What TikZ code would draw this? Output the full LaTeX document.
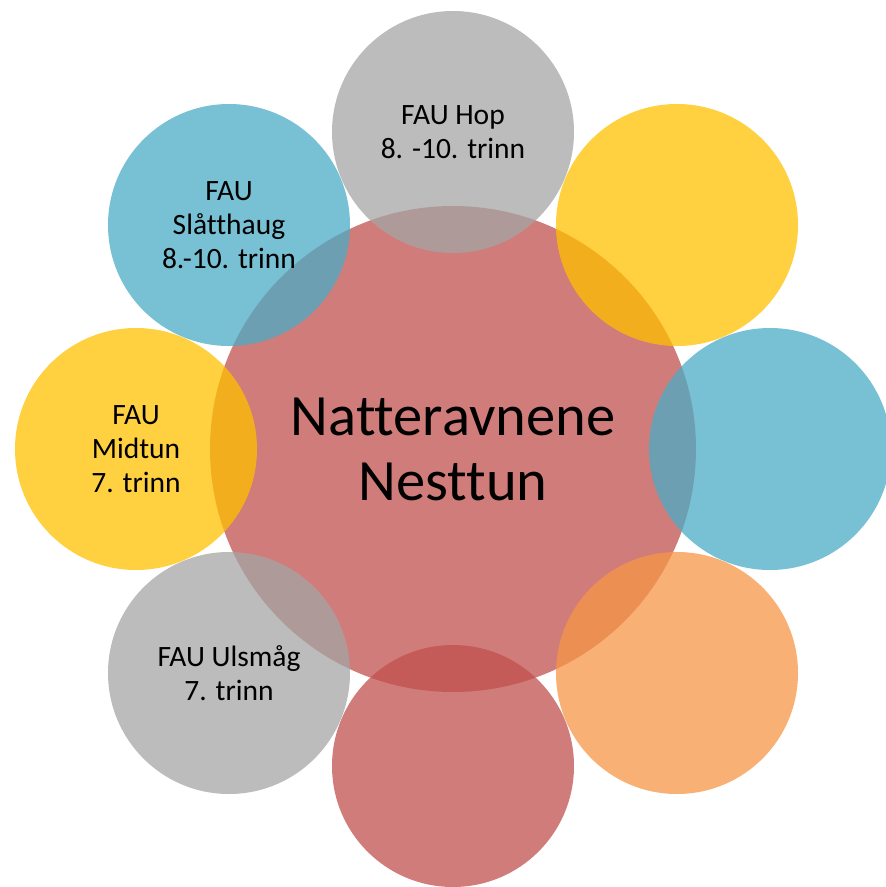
\documentclass[tikz,border=0pt]{standalone}
\usepackage{fontspec}
\setmainfont{Carlito}[Ligatures={NoCommon}]
\usepackage{xcolor}
\usepackage{tikz}
\definecolor{accred}{HTML}{C0504D}
\definecolor{accgray}{HTML}{A5A5A5}
\definecolor{accblue}{HTML}{4BACC6}
\definecolor{accyellow}{HTML}{FFC000}
\definecolor{accorange}{HTML}{F79646}

\begin{document}
\begin{tikzpicture}[x=1pt,y=-1pt,
  hub/.style={circle,minimum size=486pt,inner sep=0pt,fill opacity=0.75,text opacity=1,
    align=center,font=\fontsize{58.5}{65}\selectfont},
  sat/.style={circle,minimum size=242pt,inner sep=0pt,fill opacity=0.75,text opacity=1,
    align=center,font=\fontsize{29.5}{34}\selectfont}]
  \useasboundingbox (0,0) rectangle (886,887);
  \node[hub,fill=accred] (hub) at (453,449) {Natteravnene\\Nesttun};
  \node[sat,fill=accgray] (hop) at (453,132) {FAU Hop\\8. -10. trinn};
  \node[sat,fill=accyellow] (ne) at (677,225) {};
  \node[sat,fill=accblue] (east) at (770,449) {};
  \node[sat,fill=accorange] (se) at (677,673) {};
  \node[sat,fill=accred] (south) at (453,766) {};
  \node[sat,fill=accgray] (ulsmaag) at (229,673) {FAU Ulsmåg\\7. trinn};
  \node[sat,fill=accyellow] (midtun) at (136,449) {FAU\\Midtun\\7. trinn};
  \node[sat,fill=accblue] (slatthaug) at (229,225) {FAU\\Slåtthaug\\8.-10. trinn};
\end{tikzpicture}
\end{document}
